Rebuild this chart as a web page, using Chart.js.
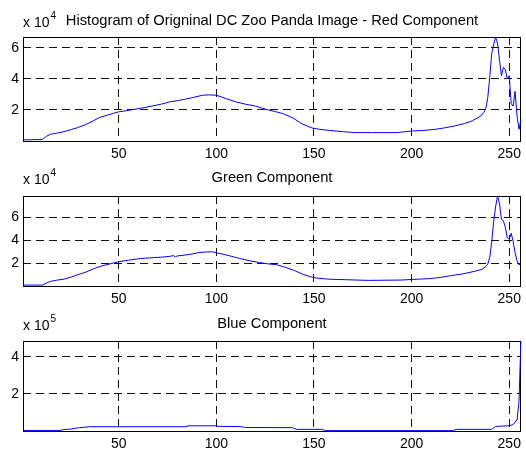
<!DOCTYPE html>
<html>
<head>
<meta charset="utf-8">
<script src="https://cdn.jsdelivr.net/npm/chart.js@4.4.1/dist/chart.umd.min.js"></script>
<style>
  html, body { margin: 0; padding: 0; background: #fff; }
  body { width: 526px; height: 453px; position: relative; overflow: hidden; }
  .panel { position: absolute; left: 0; width: 526px; }
</style>
</head>
<body>
<div class="panel" style="top:0px;height:165px"><canvas id="red" width="526" height="165"></canvas></div>
<div class="panel" style="top:165px;height:145px"><canvas id="green" width="526" height="145"></canvas></div>
<div class="panel" style="top:310px;height:143px"><canvas id="blue" width="526" height="143"></canvas></div>
<script>
// pixel intensity (bin) positions and counts
var redBins = [1, 5, 11, 13, 15, 18, 22, 26, 29, 33, 37, 40, 45, 50, 55, 59, 63, 67, 72, 76,
  80, 84, 88, 93, 96, 100, 105, 110, 115, 120, 126, 130, 134, 139, 144, 149, 153, 158, 165, 171,
  180, 192, 200, 206, 212, 217, 222, 227, 231, 234, 236, 237, 238, 239, 240, 241, 242, 243, 244, 245,
  246, 247, 248, 249, 250, 251, 252, 253, 254, 255, 256];
var redCounts = [800, 800, 1000, 3000, 4300, 5000, 6000, 7500, 8600, 10500, 13000, 15000, 17000, 18800, 19700, 20600, 21500, 22500, 23800, 25200,
  26000, 26900, 28000, 29500, 29700, 29500, 27300, 25200, 23700, 22500, 20200, 19000, 17700, 15000, 11000, 8400, 7500, 6800, 6000, 5400,
  5400, 5400, 6400, 6800, 7500, 8500, 9700, 11200, 13000, 15000, 16800, 18500, 21000, 28000, 41000, 56000, 62000, 67000, 63000, 52000,
  42000, 47500, 46000, 40000, 42000, 24000, 22500, 32000, 16000, 7500, 14000];

var greenBins = [1, 5, 11, 13, 15, 18, 22, 26, 29, 33, 38, 42, 46, 50, 55, 59, 63, 67, 72, 76,
  78, 79, 80, 84, 88, 91, 95, 98, 100, 104, 108, 112, 117, 122, 126, 131, 135, 140, 144, 148,
  151, 157, 166, 178, 195, 200, 209, 215, 220, 226, 232, 236, 238, 239, 240, 241, 242, 243, 244, 245,
  246, 247, 248, 249, 250, 251, 252, 253, 254, 255, 256];
var greenCounts = [800, 800, 800, 2500, 4000, 5000, 6000, 8000, 9800, 12000, 15600, 17800, 19500, 21200, 22500, 23500, 24200, 24600, 25200, 25800,
  26500, 25500, 26200, 27000, 28000, 29200, 29700, 29800, 29000, 27500, 25800, 24000, 22000, 20500, 19400, 18500, 16500, 13500, 10400, 8200,
  7000, 6000, 5500, 4900, 5200, 5700, 6400, 7500, 9000, 10500, 12700, 14500, 17000, 19000, 25000, 38000, 56000, 69000, 78500, 72000,
  58000, 57000, 51000, 42000, 41000, 46000, 39000, 29000, 22000, 18500, 19400];

var blueBins = [1, 20, 22, 25, 28, 30, 35, 84, 86, 100, 101, 112, 115, 139, 141, 154, 156, 221, 223, 241,
  243, 250, 252, 254, 255, 256];
var blueCounts = [3000, 3000, 8000, 10000, 15000, 18000, 23000, 23000, 28000, 28000, 25000, 24000, 19000, 18000, 9000, 9000, 2000, 2000, 9000, 9000,
  25000, 28000, 35000, 60000, 160000, 500000];

var xTicks = [50, 100, 150, 200, 250];

var FONT = '"Liberation Sans", Arial, Helvetica, sans-serif';

// axes box goes under the curve, titles and "x 10^n" on top
var panelText = {
  id: 'panelText',
  beforeDatasetsDraw: function (chart) {
    var ctx = chart.ctx;
    var a = chart.chartArea;
    ctx.save();
    ctx.strokeStyle = '#000';
    ctx.lineWidth = 1;
    ctx.strokeRect(Math.round(a.left) + 0.5, Math.round(a.top) + 0.5,
      Math.round(a.right - a.left) - 1, Math.round(a.bottom - a.top));
    ctx.restore();
  },
  afterDraw: function (chart, args, opts) {
    var ctx = chart.ctx;
    var a = chart.chartArea;
    ctx.save();
    ctx.fillStyle = '#000';
    ctx.textBaseline = 'alphabetic';
    ctx.font = '14.7px ' + FONT;
    ctx.textAlign = 'center';
    ctx.fillText(opts.title, opts.titleX, opts.titleY);
    ctx.textAlign = 'left';
    ctx.font = '14px ' + FONT;
    ctx.fillText('x 10', a.left, opts.expY);
    var w = ctx.measureText('x 10').width;
    ctx.font = '10px ' + FONT;
    ctx.fillText(opts.exp, a.left + w + 1, opts.expY - 8);
    ctx.restore();
  }
};

function makePanel(id, bins, counts, scaleExp, yMax, yTicks, padTop, xHeight, text) {
  var points = bins.map(function (b, i) {
    return {x: b, y: counts[i]};
  });
  return new Chart(document.getElementById(id), {
    type: 'line',
    data: {
      datasets: [{
        data: points,
        borderColor: '#0000ff',
        borderWidth: 1,
        pointRadius: 0,
        tension: 0,
        fill: false,
        clip: {left: 0, top: 0, right: 2, bottom: 0}
      }]
    },
    options: {
      responsive: false,
      animation: false,
      events: [],
      layout: {padding: {top: padTop, right: 3, left: 0, bottom: 0}},
      plugins: {
        legend: {display: false},
        tooltip: {enabled: false},
        panelText: text
      },
      scales: {
        x: {
          type: 'linear',
          min: 1,
          max: 256,
          afterBuildTicks: function (scale) {
            scale.ticks = xTicks.map(function (v) { return {value: v}; });
          },
          afterFit: function (scale) { scale.height = xHeight; },
          ticks: {
            color: '#000',
            font: {family: FONT, size: 14},
            padding: 5,
            maxRotation: 0,
            autoSkip: false
          },
          grid: {color: '#111', lineWidth: 1, drawTicks: false},
          border: {display: false, dash: [8, 5]}
        },
        y: {
          min: 0,
          max: yMax,
          afterBuildTicks: function (scale) {
            scale.ticks = yTicks.map(function (v) { return {value: v * Math.pow(10, scaleExp)}; });
          },
          afterFit: function (scale) { scale.width = 23; },
          ticks: {
            color: '#000',
            font: {family: FONT, size: 14},
            padding: 4,
            callback: function (v) { return Math.round(v / Math.pow(10, scaleExp)); }
          },
          grid: {color: '#111', lineWidth: 1, drawTicks: false},
          border: {display: false, dash: [8, 5]}
        }
      }
    },
    plugins: [panelText]
  });
}

makePanel('red', redBins, redCounts, 4, 67000, [2, 4, 6], 37, 24,
  {title: 'Histogram of Origninal DC Zoo Panda Image - Red Component', titleX: 272, titleY: 25, exp: '4', expY: 27});
makePanel('green', greenBins, greenCounts, 4, 78500, [2, 4, 6], 31, 24,
  {title: 'Green Component', titleX: 272, titleY: 17, exp: '4', expY: 19});
makePanel('blue', blueBins, blueCounts, 5, 486000, [2, 4], 31, 22,
  {title: 'Blue Component', titleX: 272, titleY: 18, exp: '5', expY: 20});
</script>
</body>
</html>
